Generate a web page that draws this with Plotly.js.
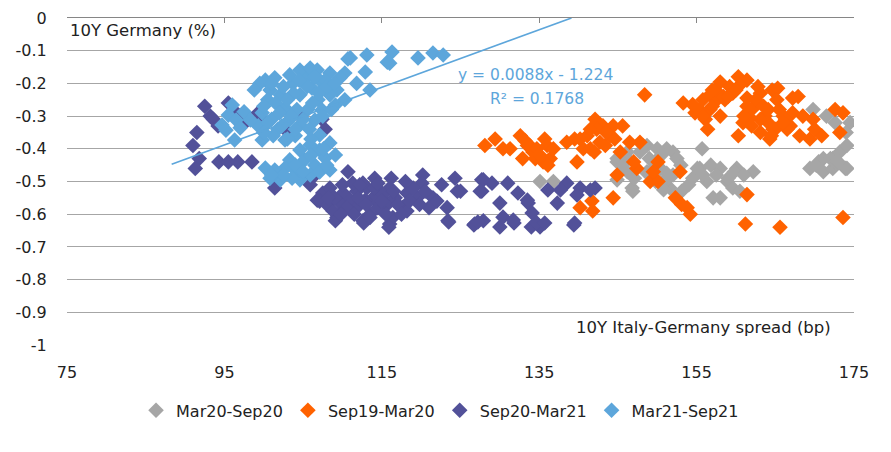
<!DOCTYPE html>
<html>
<head>
<meta charset="utf-8">
<script src="https://cdn.plot.ly/plotly-3.0.1.min.js"></script>
<style>html,body{margin:0;padding:0;background:#fff;}#chart{width:891px;height:452px;}</style>
</head>
<body>
<div id="chart"></div>
<script>
// Series: Mar20-Sep20 (gray)
var grayX = [135.1,136.8,144.9,146.2,147.8,148.7,151.2,152.0,146.2,148.7,150.4,151.2,146.9,151.6,155.7,155.4,154.5,156.3,158.0,160.1,162.2,158.9,157.1,158.0,159.6,169.8,172.6,174.5,169.4,171.1,172.3,173.2,174.1,173.9,171.1,172.3,149.5,152.5,151.0,155.1,155.8,159.0,160.5,153.1,172.0,174.1,172.6,144.9,146.2,148.2,150.0,144.9,146.8,150.8,147.1,148.7,151.2,
  149.0,150.5,153.0,152.0,156.8,157.5,159.8,161.0,154.0,149.8,145.5,170.5,173.0,171.5,174.0,170.2];
var grayY = [-0.50,-0.50,-0.44,-0.43,-0.41,-0.39,-0.40,-0.41,-0.47,-0.47,-0.46,-0.49,-0.53,-0.52,-0.40,-0.46,-0.49,-0.50,-0.46,-0.46,-0.47,-0.50,-0.55,-0.55,-0.52,-0.28,-0.32,-0.32,-0.46,-0.47,-0.43,-0.41,-0.39,-0.46,-0.43,-0.46,-0.46,-0.43,-0.50,-0.46,-0.48,-0.49,-0.53,-0.53,-0.43,-0.46,-0.44,-0.43,-0.41,-0.39,-0.40,-0.495,-0.52,-0.525,-0.49,-0.475,-0.475,
  -0.43,-0.42,-0.45,-0.48,-0.45,-0.48,-0.47,-0.48,-0.51,-0.50,-0.45,-0.44,-0.44,-0.30,-0.35,-0.45];

// Series: Sep19-Mar20 (orange)
var orangeX = [128.1,129.4,130.4,132.6,133.5,134.2,132.9,136.0,136.4,135.5,133.2,133.8,134.7,135.7,136.8,134.5,131.3,135.1,136.1,
  139.5,141.1,140.6,139.8,142.1,143.1,145.6,142.7,145.3,144.9,147.8,147.4,150.1,149.1,150.1,144.4,140.2,141.7,141.8,148.4,144.4,142.3,140.2,141.5,144.0,143.4,141.5,144.6,
  152.9,152.3,153.1,154.2,161.4,161.2,165.6,173.6,153.8,
  153.3,154.8,155.8,156.7,158.0,159.2,160.3,161.4,159.6,157.6,158.6,156.7,156.1,156.4,161.4,163.1,161.4,162.4,163.7,160.9,160.3,163.1,164.3,165.0,164.1,164.6,165.3,165.2,166.0,166.9,167.2,167.9,167.2,169.8,169.4,170.9,172.6,173.6,173.2,158.4,162.0,163.1,164.1,164.7,166.5,154.5,155.4,157.4,160.5,161.8,166.3,168.1,
  157.0,159.0,160.0,162.5,163.5,165.5,166.0,164.5,162.0,161.0,158.0,157.0,168.5,170.0,162.8,155.8,
  143.5,146.5,142.0,138.5,147.0,149.5];
var orangeY = [-0.39,-0.37,-0.40,-0.36,-0.39,-0.41,-0.43,-0.39,-0.43,-0.44,-0.375,-0.39,-0.40,-0.37,-0.40,-0.43,-0.40,-0.42,-0.45,
  -0.37,-0.36,-0.40,-0.44,-0.31,-0.33,-0.33,-0.38,-0.41,-0.48,-0.38,-0.46,-0.44,-0.50,-0.50,-0.55,-0.58,-0.56,-0.59,-0.235,-0.33,-0.34,-0.37,-0.34,-0.36,-0.39,-0.40,-0.37,
  -0.47,-0.55,-0.57,-0.60,-0.54,-0.63,-0.64,-0.61,-0.58,
  -0.26,-0.29,-0.25,-0.235,-0.196,-0.21,-0.18,-0.19,-0.23,-0.25,-0.25,-0.28,-0.31,-0.34,-0.245,-0.23,-0.27,-0.27,-0.30,-0.32,-0.36,-0.35,-0.37,-0.34,-0.32,-0.22,-0.215,-0.25,-0.30,-0.33,-0.245,-0.24,-0.29,-0.31,-0.37,-0.36,-0.28,-0.29,-0.35,-0.24,-0.28,-0.31,-0.28,-0.34,-0.34,-0.265,-0.28,-0.22,-0.205,-0.305,-0.31,-0.36,
  -0.22,-0.24,-0.22,-0.25,-0.27,-0.28,-0.32,-0.36,-0.33,-0.30,-0.30,-0.27,-0.30,-0.34,-0.21,-0.30,
  -0.35,-0.38,-0.41,-0.38,-0.44,-0.47];

// Series: Sep20-Mar21 (purple)
var purpleX = [92.5,93.2,93.6,94.2,91.5,91.0,91.8,91.3,95.5,97.0,97.2,94.3,95.5,96.7,98.5,101.4,99.3,99.8,107.4,107.8,103.1,104.6,106.1,105.9,96.5,
  110.7,107.5,107.1,108.4,109.3,110.1,111.0,111.8,111.8,112.6,113.1,114.1,113.9,114.8,114.5,116.0,115.7,116.0,116.7,116.4,117.6,118.2,119.5,120.2,120.1,122.6,124.6,121.5,123.3,123.4,127.7,127.7,126.8,127.9,108.0,108.8,111.3,113.5,112.9,115.2,118.2,112.6,109.7,106.8,
  109.1,112.7,115.9,123.5,126.7,130.0,131.8,134.0,135.1,139.4,
  127.9,127.5,129.0,131.0,132.3,130.0,133.6,137.3,136.1,138.5,140.2,142.1,139.8,127.2,130.4,131.7,134.1,134.7,135.7,139.5,133.5,137.7,141.5,124.3,125.0,
  109.0,110.5,111.5,112.0,113.0,114.0,115.0,116.5,117.0,118.5,119.0,120.5,121.0,117.5,115.5,113.5,110.0,112.2,114.5,116.2,118.0,119.8,122.0,109.8,108.2];
var purpleY = [-0.27,-0.30,-0.31,-0.33,-0.35,-0.39,-0.43,-0.46,-0.26,-0.30,-0.33,-0.44,-0.44,-0.44,-0.44,-0.52,-0.29,-0.31,-0.31,-0.34,-0.35,-0.30,-0.49,-0.51,-0.29,
  -0.47,-0.535,-0.56,-0.52,-0.61,-0.535,-0.557,-0.53,-0.58,-0.62,-0.52,-0.49,-0.55,-0.53,-0.58,-0.52,-0.57,-0.63,-0.55,-0.61,-0.58,-0.535,-0.55,-0.48,-0.505,-0.51,-0.53,-0.55,-0.58,-0.62,-0.495,-0.53,-0.63,-0.62,-0.57,-0.59,-0.505,-0.60,-0.557,-0.54,-0.59,-0.505,-0.566,-0.557,
  -0.62,-0.627,-0.64,-0.624,-0.633,-0.639,-0.627,-0.639,-0.639,-0.633,
  -0.495,-0.53,-0.505,-0.505,-0.535,-0.566,-0.566,-0.566,-0.526,-0.505,-0.52,-0.52,-0.541,-0.624,-0.609,-0.618,-0.596,-0.627,-0.627,-0.627,-0.557,-0.526,-0.526,-0.49,-0.53,
  -0.55,-0.58,-0.60,-0.55,-0.57,-0.52,-0.56,-0.53,-0.57,-0.56,-0.52,-0.53,-0.58,-0.60,-0.60,-0.61,-0.51,-0.51,-0.505,-0.49,-0.50,-0.57,-0.56,-0.60,-0.55];

// Series: Mar21-Sep21 (light blue)
var blueX = [113.1,116.3,115.7,111.0,119.6,121.5,122.8,116.0,110.7,112.9,110.3,113.5,111.8,108.4,106.8,105.5,108.8,107.1,103.7,109.3,
  96.0,95.5,96.5,97.0,95.2,96.3,94.7,97.5,
  100.2,100.8,101.4,100.5,102.1,102.7,99.8,101.0,99.3,103.3,101.8,104.0,104.6,105.2,106.1,106.9,105.6,107.8,108.4,104.6,106.5,107.1,102.7,99.8,98.3,103.3,109.7,110.3,104.6,105.9,109.1,107.4,
  104.6,105.9,107.1,108.4,105.2,106.5,107.8,109.1,104.0,105.9,107.1,108.4,104.6,103.3,
  100.2,101.4,102.7,102.1,103.6,100.8,
  99.5,101.0,102.5,103.8,101.5,103.0,104.2,100.0,102.0,103.5,105.0,100.5,102.3,104.0,105.8,101.2,106.2,107.0,108.0,109.0,105.5,106.5,104.5,107.5,108.6,98.8,100.0,103.0,106.0,107.6,106.0,104.0,102.5,101.0,105.0,108.0];
var blueY = [-0.113,-0.104,-0.135,-0.122,-0.122,-0.107,-0.113,-0.138,-0.125,-0.165,-0.168,-0.22,-0.20,-0.168,-0.159,-0.168,-0.21,-0.19,-0.20,-0.22,
  -0.266,-0.297,-0.312,-0.336,-0.343,-0.373,-0.327,-0.287,
  -0.19,-0.22,-0.183,-0.25,-0.235,-0.275,-0.29,-0.31,-0.33,-0.31,-0.34,-0.36,-0.235,-0.19,-0.214,-0.25,-0.28,-0.19,-0.235,-0.327,-0.312,-0.358,-0.373,-0.373,-0.312,-0.174,-0.183,-0.25,-0.159,-0.153,-0.266,-0.281,
  -0.404,-0.388,-0.404,-0.382,-0.434,-0.45,-0.428,-0.419,-0.465,-0.48,-0.471,-0.465,-0.495,-0.434,
  -0.459,-0.465,-0.459,-0.495,-0.49,-0.49,
  -0.20,-0.20,-0.21,-0.23,-0.26,-0.25,-0.28,-0.27,-0.29,-0.30,-0.31,-0.32,-0.33,-0.34,-0.34,-0.36,-0.26,-0.23,-0.21,-0.20,-0.21,-0.18,-0.19,-0.30,-0.28,-0.22,-0.35,-0.37,-0.37,-0.40,-0.42,-0.45,-0.48,-0.48,-0.47,-0.45];

// Linear trendline of Mar21-Sep21
var trendSlope = 0.0088;
var trendIntercept = -1.224;
var trendXStart = 88.3;
var trendXEnd = 139.1;

var xTicks = [75, 95, 115, 135, 155, 175];
var yTicks = [0, -0.1, -0.2, -0.3, -0.4, -0.5, -0.6, -0.7, -0.8, -0.9, -1];
var yTickText = ['0','-0.1','-0.2','-0.3','-0.4','-0.5','-0.6','-0.7','-0.8','-0.9','-1'];

var FONT = 'DejaVu Sans, sans-serif';
var TXT = '#222222';
var C_GRAY = '#A6A6A6', C_ORANGE = '#FF6200', C_PURPLE = '#525199', C_BLUE = '#5DA6DB';

function mk(name, xs, ys, color) {
  return {type: 'scatter', mode: 'markers', name: name, x: xs, y: ys,
    marker: {symbol: 'diamond', size: 12, color: color, line: {width: 0}},
    hoverinfo: 'x+y'};
}

var trendX = [trendXStart, trendXEnd];
var trendY = trendX.map(function (v) { return trendSlope * v + trendIntercept; });

var data = [
  mk('Mar20-Sep20', grayX, grayY, C_GRAY),
  mk('Sep19-Mar20', orangeX, orangeY, C_ORANGE),
  mk('Sep20-Mar21', purpleX, purpleY, C_PURPLE),
  mk('Mar21-Sep21', blueX, blueY, C_BLUE),
  {type: 'scatter', mode: 'lines', x: trendX, y: trendY, xaxis: 'x2', yaxis: 'y',
   line: {color: C_BLUE, width: 1.6}, showlegend: false, hoverinfo: 'skip'}
];

var layout = {
  width: 891, height: 452,
  margin: {l: 67, r: 37, t: 18, b: 107},
  paper_bgcolor: '#fff', plot_bgcolor: '#fff',
  font: {family: FONT, size: 16, color: TXT},
  showlegend: true,
  legend: {orientation: 'h', x: 0.474, xanchor: 'center', y: -0.2, yanchor: 'middle',
    font: {family: FONT, size: 16, color: TXT}, itemwidth: 30, tracegroupgap: 0},
  xaxis: {range: [75, 175], tickvals: xTicks, ticktext: xTicks.map(String),
    showgrid: false, zeroline: false, showline: false,
    ticks: 'outside', ticklen: 13, tickcolor: 'rgba(0,0,0,0)',
    tickfont: {family: FONT, size: 16, color: TXT}, fixedrange: true},
  xaxis2: {range: [75, 175], overlaying: 'x', side: 'top', tickvals: xTicks,
    showticklabels: false, showgrid: false, zeroline: false,
    showline: true, linecolor: '#868686', linewidth: 1,
    ticks: 'inside', ticklen: 5, tickcolor: '#868686', fixedrange: true},
  yaxis: {range: [-1, 0], tickvals: yTicks, ticktext: yTickText,
    showgrid: true, gridcolor: '#A6A6A6', gridwidth: 1, zeroline: false, showline: false,
    ticks: 'outside', ticklen: 16, tickcolor: 'rgba(0,0,0,0)',
    tickfont: {family: FONT, size: 16, color: TXT}, fixedrange: true},
  annotations: [
    {xref: 'paper', yref: 'paper', x: 0, y: 0.963, xanchor: 'left', yanchor: 'middle', xshift: 1,
     text: '10Y Germany (%)', showarrow: false, font: {family: FONT, size: 16.5, color: TXT}},
    {xref: 'paper', yref: 'paper', x: 0.973, y: 0.055, xanchor: 'right', yanchor: 'middle',
     text: '10Y Italy-Germany spread (bp)', showarrow: false, font: {family: FONT, size: 16.5, color: TXT}},
    {xref: 'paper', yref: 'paper', x: 0.595, y: 0.826, xanchor: 'center', yanchor: 'middle',
     text: 'y = 0.0088x - 1.224', showarrow: false, font: {family: FONT, size: 15.5, color: C_BLUE}},
    {xref: 'paper', yref: 'paper', x: 0.597, y: 0.752, xanchor: 'center', yanchor: 'middle',
     text: 'R² = 0.1768', showarrow: false, font: {family: FONT, size: 15.5, color: C_BLUE}}
  ]
};

Plotly.newPlot('chart', data, layout, {displayModeBar: false, staticPlot: true});
</script>
</body>
</html>
